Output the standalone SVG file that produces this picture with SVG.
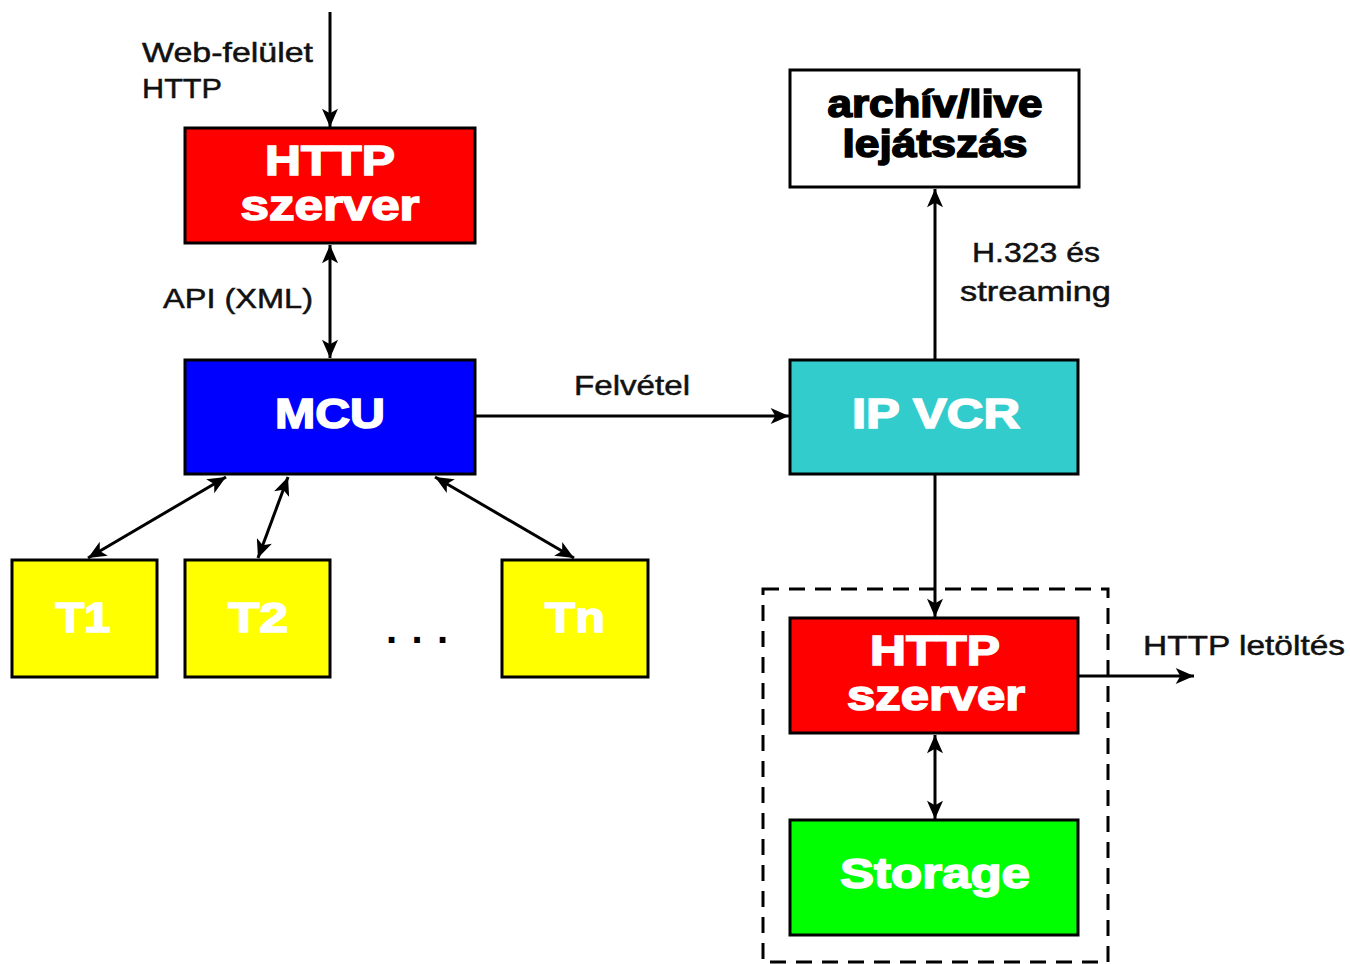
<svg xmlns="http://www.w3.org/2000/svg" width="1350" height="964" viewBox="0 0 1350 964">
<style>
.box{stroke:#000;stroke-width:3}
.lbl{font-family:"Liberation Sans",Arial,sans-serif;font-weight:bold;font-size:42px;fill:#fff;stroke:#fff;stroke-width:1.6;text-anchor:middle}
.blk{fill:#000;stroke:#000;font-size:38px}
.t{font-family:"Liberation Sans",Arial,sans-serif;font-size:28px;fill:#111;stroke:#111;stroke-width:0.5}
.c{stroke:#000;stroke-width:3;fill:none}
</style>
<defs>
<marker id="ah" markerUnits="userSpaceOnUse" markerWidth="20" markerHeight="16" refX="16" refY="7" orient="auto-start-reverse" viewBox="0 0 16 14">
<path d="M0,0 L16,7 L0,14 L4,7 Z" fill="#000"/>
</marker>
</defs>
<rect width="1350" height="964" fill="#fff"/>
<g id="connectors">
<line class="c" x1="330" y1="12" x2="330" y2="127" marker-end="url(#ah)"/>
<line class="c" x1="330" y1="245" x2="330" y2="358" marker-start="url(#ah)" marker-end="url(#ah)"/>
<line class="c" x1="476" y1="416" x2="789" y2="416" marker-end="url(#ah)"/>
<line class="c" x1="935" y1="359" x2="935" y2="189" marker-end="url(#ah)"/>
<line class="c" x1="935" y1="475" x2="935" y2="617" marker-end="url(#ah)"/>
<line class="c" x1="935" y1="735" x2="935" y2="819" marker-start="url(#ah)" marker-end="url(#ah)"/>
<line class="c" x1="1079" y1="676" x2="1194" y2="676" marker-end="url(#ah)"/>
<line class="c" x1="226" y1="477" x2="88" y2="558" marker-start="url(#ah)" marker-end="url(#ah)"/>
<line class="c" x1="288" y1="477" x2="258" y2="558" marker-start="url(#ah)" marker-end="url(#ah)"/>
<line class="c" x1="435" y1="477" x2="574" y2="558" marker-start="url(#ah)" marker-end="url(#ah)"/>
<rect x="763" y="589" width="345" height="373" fill="none" stroke="#000" stroke-width="3" stroke-dasharray="16,10"/>
</g>
<g id="labels">
<text class="t" x="142" y="62" textLength="171" lengthAdjust="spacingAndGlyphs">Web-felület</text>
<text class="t" x="142" y="98" textLength="80" lengthAdjust="spacingAndGlyphs">HTTP</text>
<text class="t" x="163" y="308" textLength="150" lengthAdjust="spacingAndGlyphs">API (XML)</text>
<text class="t" x="574" y="395" textLength="116" lengthAdjust="spacingAndGlyphs">Felvétel</text>
<text class="t" x="972" y="262" textLength="128" lengthAdjust="spacingAndGlyphs">H.323 és</text>
<text class="t" x="960" y="301" textLength="151" lengthAdjust="spacingAndGlyphs">streaming</text>
<text class="t" x="1143" y="655" textLength="202" lengthAdjust="spacingAndGlyphs">HTTP letöltés</text>
<text x="386" y="643" font-family="Liberation Sans,sans-serif" font-weight="bold" font-size="40" fill="#000" textLength="62" lengthAdjust="spacing">...</text>
</g>
<g id="http1">
<rect class="box" x="185" y="128" width="290" height="115" fill="#ff0000"/>
<text class="lbl" x="330" y="175" textLength="130" lengthAdjust="spacingAndGlyphs">HTTP</text>
<text class="lbl" x="330" y="220" textLength="179" lengthAdjust="spacingAndGlyphs">szerver</text>
</g>
<g id="mcu">
<rect class="box" x="185" y="360" width="290" height="114" fill="#0000ff"/>
<text class="lbl" x="330" y="428" textLength="110" lengthAdjust="spacingAndGlyphs">MCU</text>
</g>
<g id="t1">
<rect class="box" x="12" y="560" width="145" height="117" fill="#ffff00"/>
<text class="lbl" x="83" y="632" textLength="55" lengthAdjust="spacingAndGlyphs">T1</text>
</g>
<g id="t2">
<rect class="box" x="185" y="560" width="145" height="117" fill="#ffff00"/>
<text class="lbl" x="258" y="632" textLength="60" lengthAdjust="spacingAndGlyphs">T2</text>
</g>
<g id="tn">
<rect class="box" x="502" y="560" width="146" height="117" fill="#ffff00"/>
<text class="lbl" x="575" y="632" textLength="60" lengthAdjust="spacingAndGlyphs">Tn</text>
</g>
<g id="archive">
<rect class="box" x="790" y="70" width="289" height="117" fill="#ffffff"/>
<text class="lbl blk" x="935" y="117" textLength="215" lengthAdjust="spacingAndGlyphs">archív/live</text>
<text class="lbl blk" x="935" y="157" textLength="185" lengthAdjust="spacingAndGlyphs">lejátszás</text>
</g>
<g id="ipvcr">
<rect class="box" x="790" y="360" width="288" height="114" fill="#33cccc"/>
<text class="lbl" x="936" y="428" textLength="168" lengthAdjust="spacingAndGlyphs">IP VCR</text>
</g>
<g id="http2">
<rect class="box" x="790" y="618" width="288" height="115" fill="#ff0000"/>
<text class="lbl" x="935" y="665" textLength="130" lengthAdjust="spacingAndGlyphs">HTTP</text>
<text class="lbl" x="936" y="710" textLength="178" lengthAdjust="spacingAndGlyphs">szerver</text>
</g>
<g id="storage">
<rect class="box" x="790" y="820" width="288" height="115" fill="#00ff00"/>
<text class="lbl" x="935" y="888" textLength="190" lengthAdjust="spacingAndGlyphs">Storage</text>
</g>
</svg>
